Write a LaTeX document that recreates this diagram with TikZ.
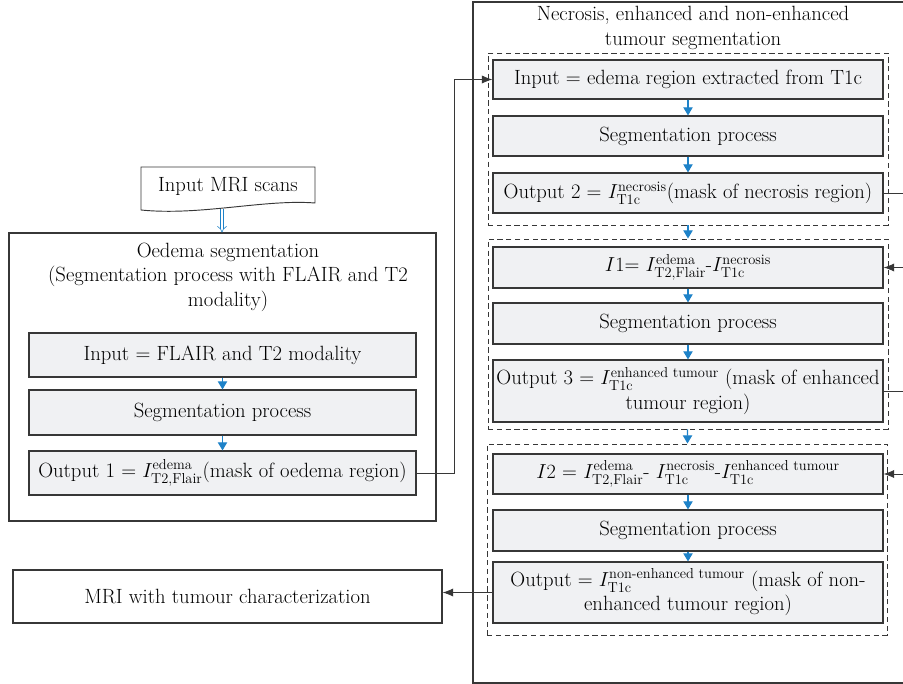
\documentclass[tikz,border=0pt]{standalone}
\usepackage{amsmath}
\usepackage{tikz}
\usetikzlibrary{arrows.meta, positioning}
\definecolor{boxgrey}{RGB}{240,241,243}
\definecolor{linegrey}{RGB}{55,55,55}
\definecolor{flowblue}{RGB}{30,130,200}
\newcommand{\diagfont}{\fontsize{17.6}{21}\selectfont}

\begin{document}
\begin{tikzpicture}[x=0.03cm, y=-0.03cm,
  stage/.style={draw=linegrey, fill=boxgrey, line width=0.9pt, inner sep=0pt,
                minimum width=11.7cm, minimum height=1.2cm,
                font=\diagfont, align=center},
  frame/.style={draw=linegrey, line width=0.9pt, inner sep=0pt},
  group/.style={draw=linegrey, line width=0.8pt, dash pattern=on 4.5pt off 3pt,
                inner sep=0pt, minimum width=12cm},
  caption/.style={font=\diagfont, align=center, inner sep=0pt},
  flow/.style={-{Triangle[length=7pt, width=8pt]}, draw=flowblue, fill=flowblue, line width=1pt},
  hollow/.style={-{Implies}, draw=flowblue, double=white, double distance=2.4pt, line width=0.5pt},
  arrow/.style={-{Latex[length=9pt, width=7pt]}, draw=linegrey, line width=0.8pt}
]
  \useasboundingbox (0,0) rectangle (903,684);
  \clip (0,0) rectangle (903,684);

  % left column: oedema
  \draw[linegrey, line width=0.8pt] (141,167) -- (315,167) -- (315,203)
    .. controls (265,199) and (200,216) .. (141,210) -- cycle;
  \node[caption] (scans) at (228,186) {Input MRI scans};
  \coordinate (scansfoot) at (222,209);

  \node[frame, minimum width=12.81cm, minimum height=8.64cm] (oedema) at (222.5,377) {};
  \node[caption] (oedtitle) at (228,277) {Oedema segmentation\\(Segmentation process with FLAIR and T2\\modality)};

  \node[stage, minimum width=11.61cm, minimum height=1.32cm] (inone)  at (222.5,355)   {Input = FLAIR and T2 modality};
  \node[stage, minimum width=11.61cm, minimum height=1.35cm] (segone) at (222.5,412.5) {Segmentation process};
  \node[stage, minimum width=11.61cm, minimum height=1.32cm] (outone) at (222.5,473)
    {Output 1 = $I^{\text{edema}}_{\text{T2,Flair}}$(mask of oedema region)};

  \node[frame, minimum width=12.87cm, minimum height=1.59cm, font=\diagfont] (result) at (227.5,596.5)
    {MRI with tumour characterization};

  % right column: tumour
  \node[frame, minimum width=13.2cm, minimum height=20.43cm] (tumour) at (693,342.5) {};
  \node[caption] (tumtitle) at (693,28) {Necrosis, enhanced and non-enhanced\\tumour segmentation};

  \node[group, minimum height=5.16cm] (grpA) at (688,139)   {};
  \node[group, minimum height=5.7cm]  (grpB) at (688,334)   {};
  \node[group, minimum height=5.73cm] (grpC) at (687,539.5) {};

  \node[stage, minimum height=1.17cm] (inA)  at (688,79.5) {Input = edema region extracted from T1c};
  \node[stage]                        (segA) at (688,136)  {Segmentation process};
  \node[stage]                        (outA) at (688,193)
    {Output 2 = $I^{\text{necrosis}}_{\text{T1c}}$(mask of necrosis region)};

  \node[stage, minimum height=1.23cm] (inB)  at (688,267.5)
    {$I1$= $I^{\text{edema}}_{\text{T2,Flair}}$-$I^{\text{necrosis}}_{\text{T1c}}$};
  \node[stage, minimum height=1.23cm] (segB) at (688,323.5) {Segmentation process};
  \node[stage, minimum height=1.86cm] (outB) at (688,391)
    {Output 3 = $I^{\text{enhanced tumour}}_{\text{T1c}}$ (mask of enhanced\\tumour region)};

  \node[stage]                        (inC)  at (688,474)
    {$I2$ = $I^{\text{edema}}_{\text{T2,Flair}}$- $I^{\text{necrosis}}_{\text{T1c}}$-$I^{\text{enhanced tumour}}_{\text{T1c}}$};
  \node[stage, minimum height=1.23cm] (segC) at (688,530.5) {Segmentation process};
  \node[stage, minimum height=1.83cm] (outC) at (688,592.5)
    {Output = $I^{\text{non-enhanced tumour}}_{\text{T1c}}$ (mask of non-\\enhanced tumour region)};

  \coordinate (rim) at (910,0);

  % connectors
  \draw[hollow] (scansfoot) -- (scansfoot |- oedema.north);
  \draw[flow] (inone) -- (segone);
  \draw[flow] (segone) -- (outone);
  \draw[arrow] (outone.east) -- ++(38,0) |- (inA.west);

  \draw[flow] (inA) -- (segA);
  \draw[flow] (segA) -- (outA);
  \draw[flow] (grpA) -- (grpB);
  \draw[flow] (inB) -- (segB);
  \draw[flow] (segB) -- (outB);
  \draw[flow] (grpB) -- (grpC);
  \draw[flow] (inC) -- (segC);
  \draw[flow] (segC) -- (outC);

  \draw[linegrey, line width=0.8pt] (outA.east) -- (outA.east -| rim);
  \draw[arrow] (inB.east -| rim) -- (inB.east);
  \draw[linegrey, line width=0.8pt] (outB.east) -- (outB.east -| rim);
  \draw[arrow] (inC.east -| rim) -- (inC.east);
  \draw[arrow] (outC.west) -- (outC.west -| result.east);
\end{tikzpicture}
\end{document}
